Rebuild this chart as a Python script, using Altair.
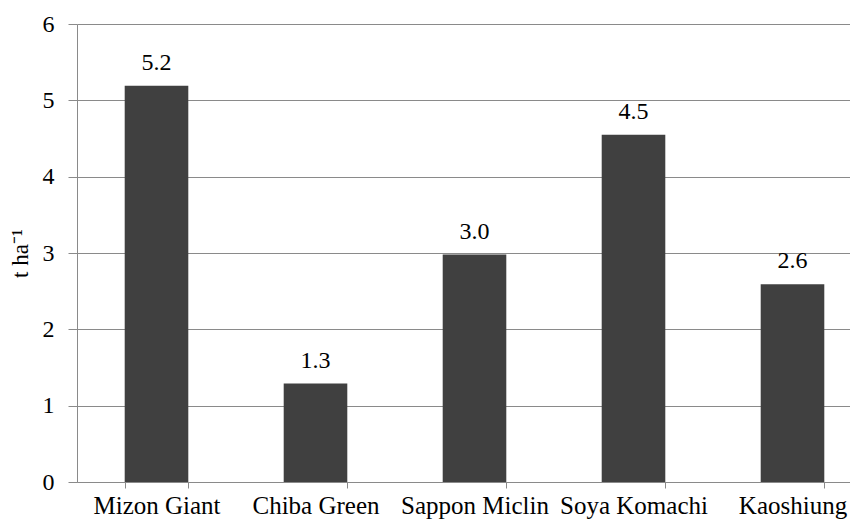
import altair as alt
import pandas as pd

varieties = ["Mizon Giant", "Chiba Green", "Sappon Miclin", "Soya Komachi", "Kaoshiung"]
yields = [5.19, 1.29, 2.98, 4.55, 2.59]
labels = ["5.2", "1.3", "3.0", "4.5", "2.6"]
y_ticks = [0, 1, 2, 3, 4, 5, 6]

df = pd.DataFrame({"variety": varieties, "yield": yields, "label": labels})

FONT = "Liberation Serif"
GRAY = "#8a8a8a"

x_enc = alt.X(
    "variety:N",
    sort=varieties,
    title=None,
    scale=alt.Scale(range=[0, 795], paddingInner=0.6, paddingOuter=0.3),
    axis=alt.Axis(
        labelAngle=0,
        tickBand="extent",
        tickSize=6,
        tickColor=GRAY,
        domainColor=GRAY,
        labelFont=FONT,
        labelFontSize=25,
        labelColor="black",
        labelBaseline="alphabetic",
        labelPadding=25,
        labelOverlap=False,
        labelBound=False,
        grid=False,
    ),
)

y_enc = alt.Y(
    "yield:Q",
    scale=alt.Scale(domain=[0, 6], nice=False),
    axis=alt.Axis(
        values=y_ticks,
        format="d",
        title="t ha⁻¹",
        titleFont=FONT,
        titleFontSize=23,
        titleFontWeight="normal",
        titleColor="black",
        titleAngle=-90,
        titleBaseline="alphabetic",
        titleX=-50,
        titleY=229,
        tickSize=9,
        tickColor=GRAY,
        domainColor=GRAY,
        gridColor=GRAY,
        labelFont=FONT,
        labelFontSize=24,
        labelColor="black",
        labelPadding=14,
    ),
)

bars = alt.Chart(df).mark_bar(color="#404040").encode(x=x_enc, y=y_enc)

text = alt.Chart(df).mark_text(
    dy=-16, baseline="alphabetic", fontSize=24, font=FONT, color="black"
).encode(x=alt.X("variety:N", sort=varieties), y=alt.Y("yield:Q"), text="label:N")

chart = (
    alt.layer(bars, text)
    .properties(
        width=773,
        height=458,
        autosize=alt.AutoSizeParams(type="none"),
        padding={"left": 77, "top": 24, "right": 0, "bottom": 40},
        background="white",
    )
    .configure_view(strokeWidth=0)
)

chart.save("out.html", embed_options={"renderer": "svg", "actions": False})
